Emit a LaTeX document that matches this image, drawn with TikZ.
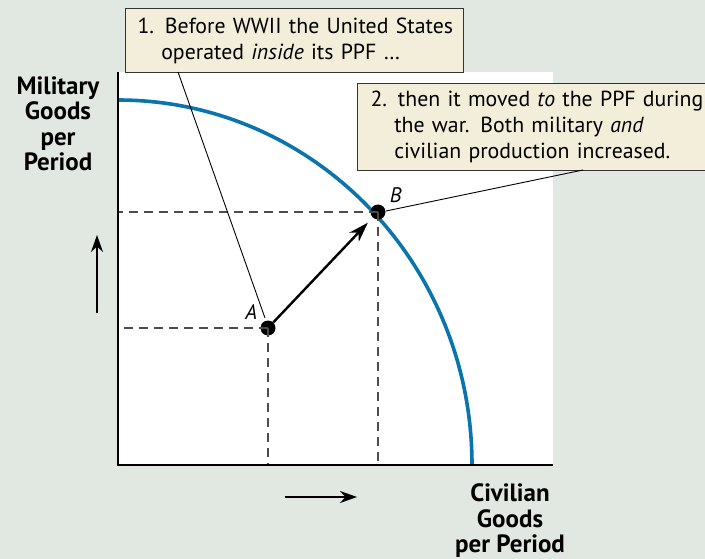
\documentclass[tikz,border=0pt]{standalone}
\usepackage{fontspec}
\setmainfont{PT Sans}
\usetikzlibrary{positioning,arrows.meta}
\definecolor{bgcol}{HTML}{E1E7E1}
\definecolor{notecol}{HTML}{F3EEDA}
\definecolor{ppfcol}{HTML}{0A74AC}

\begin{document}
\begin{tikzpicture}[x=1pt, y=-1pt,
    note/.style={draw=black!80, line width=1pt, fill=notecol, anchor=north west,
        align=left, inner xsep=12pt, inner ysep=4pt, font=\fontsize{21.8}{26}\selectfont},
    dot/.style={circle, fill=black, minimum size=15pt, inner sep=0pt},
    guide/.style={dash pattern=on 9pt off 6pt, line width=1.2pt, black!70},
    lead/.style={line width=0.9pt},
    axislabel/.style={font=\fontsize{25}{25.5}\selectfont\bfseries, align=center},
    move/.style={line width=2.4pt, -{Stealth[length=20pt, width=13pt]}, shorten >=7pt},
    hint/.style={line width=2pt, -{Stealth[length=17pt, width=12pt]}}
    ]

    % page and plot area
    \fill[bgcol] (0,0) rectangle (705,559);
    \useasboundingbox (0,0) rectangle (705,559);
    \fill[white] (118,72) rectangle (553,465);

    \coordinate (O) at (118,465);
    \coordinate (ytop) at (118,72);
    \coordinate (xend) at (553,465);

    % PPF
    \draw[ppfcol, line width=3.6pt] (118,100) arc[start angle=-90, end angle=0, x radius=354, y radius=365];

    % points
    \node[dot] (A) at (268,328) {};
    \node[dot] (B) at (378,212) {};
    \node[font=\fontsize{21}{24}\selectfont\itshape, above left=0pt and 2pt of A] (Alab) {A};
    \node[font=\fontsize{21}{24}\selectfont\itshape, above right=0pt and 3pt of B] (Blab) {B};

    % guide lines
    \draw[guide] (A.center) -- (A.center -| O);
    \draw[guide] (A.center) -- (A.center |- O);
    \draw[guide] (B.center) -- (B.center -| O);
    \draw[guide] (B.center) -- (B.center |- O);

    % axes
    \draw[line width=2.6pt] (ytop) -- (O) -- (xend);

    % movement from A to B
    \draw[move] (A) -- (B);

    % notes
    \node[note, minimum width=338pt, minimum height=64pt, text width=314pt] (n1) at (125,8)
        {\mbox{1. Before WWII the United States}\\
         \mbox{\phantom{1.\ }operated \emph{inside} its PPF \dots}};
    \node[note, minimum width=380pt, minimum height=87pt, text width=354pt] (n2) at (357,83)
        {\mbox{2. then it moved \emph{to} the PPF during}\\
         \mbox{\phantom{2.\ }the war. Both military \emph{and}}\\
         \mbox{\phantom{2.\ }civilian production increased.}};

    \coordinate (n1foot) at (178,72);
    \coordinate (Atip) at (265,318);
    \coordinate (n2foot) at (583,170);
    \coordinate (Btip) at (386,211);
    \draw[lead] (n1foot) -- (Atip);
    \draw[lead] (n2foot) -- (Btip);

    % axis labels
    \node[axislabel] (ylab) at (58,124) {Military\\Goods\\per\\Period};
    \node[axislabel] (xlab) at (510,521) {Civilian\\Goods\\per Period};

    \coordinate (up0) at (97,313);
    \coordinate (up1) at (97,235);
    \draw[hint] (up0) -- (up1);
    \coordinate (rt0) at (285,497);
    \coordinate (rt1) at (357,497);
    \draw[hint] (rt0) -- (rt1);
\end{tikzpicture}
\end{document}
